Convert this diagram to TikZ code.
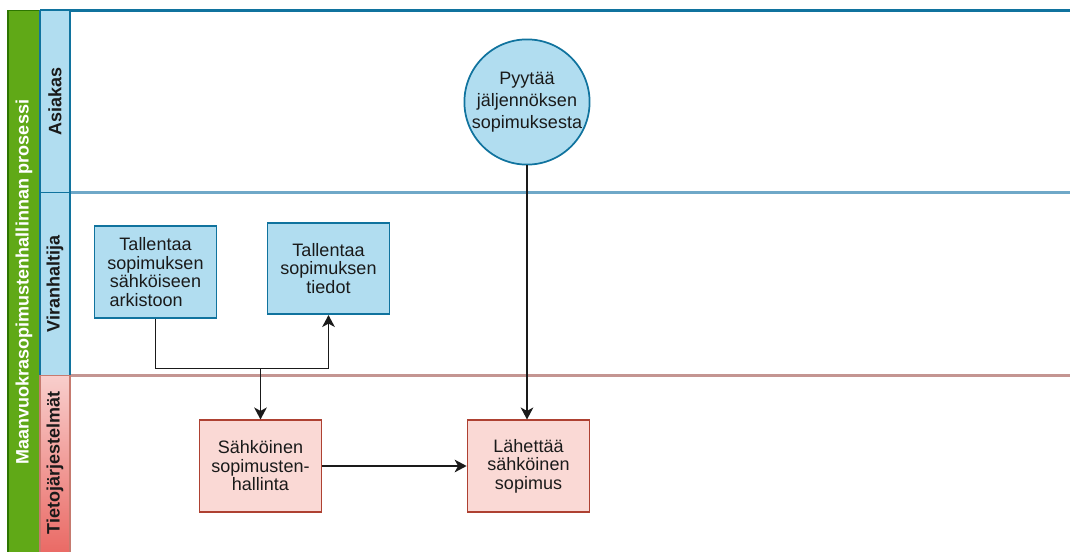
\documentclass[tikz,border=0pt]{standalone}
\usepackage{fontspec}
\setmainfont{Liberation Sans}
\usetikzlibrary{arrows.meta}
\definecolor{poolfill}{HTML}{60A917}
\definecolor{poolline}{HTML}{2D7600}
\definecolor{bluefill}{HTML}{B1DDF0}
\definecolor{blueline}{HTML}{10739E}
\definecolor{bluelane}{HTML}{6FA8C8}
\definecolor{redfill}{HTML}{FAD9D5}
\definecolor{redline}{HTML}{AE4132}
\definecolor{redlane}{HTML}{C49592}
\definecolor{redtop}{HTML}{F8CECC}
\definecolor{redbot}{HTML}{EA6B66}
\definecolor{ink}{HTML}{1A1A1A}
\begin{document}
\begin{tikzpicture}[x=0.75pt,y=-0.75pt,
  font=\fontsize{13.5}{13.9}\selectfont,
  bluebox/.style={draw=blueline,fill=bluefill,line width=1.3pt,
    minimum width=91.5pt,minimum height=68.5pt,align=center,text=ink,inner sep=1pt},
  redbox/.style={draw=redline,fill=redfill,line width=1.3pt,
    minimum width=91.5pt,minimum height=68.5pt,align=center,text=ink,inner sep=1pt},
  event/.style={circle,draw=blueline,fill=bluefill,line width=1.3pt,
    minimum size=88.5pt,align=center,text=ink,inner sep=0pt,
    font=\fontsize{13.5}{16.4}\selectfont},
  lanelabel/.style={rotate=90,font=\fontsize{13.5}{14}\selectfont\bfseries,text=ink},
  flow/.style={draw=ink,line width=1.2pt,-{Stealth[length=9pt,width=9.5pt,inset=2.6pt]}},
  link/.style={draw=ink,line width=1.2pt}]
\useasboundingbox (0,0) rectangle (1070,551);
\clip (0,0) rectangle (1070,551);
\fill[white] (0,0) rectangle (1070,551);

% lane separators
\draw[blueline,line width=1.6pt] (40,10.5) -- (1075,10.5);
\draw[bluelane,line width=1.6pt] (40,192.5) -- (1075,192.5);
\draw[redlane,line width=1.6pt] (40,375.5) -- (1075,375.5);

% pool bar
\filldraw[fill=poolfill,draw=poolline,line width=1.2pt] (8,10.5) rectangle (40,560);
\node[rotate=90,text=white,font=\fontsize{13.5}{14}\selectfont\bfseries] (pool) at (24,282) {Maanvuokrasopimustenhallinnan prosessi};

% lane headers
\filldraw[fill=bluefill,draw=blueline,line width=1.2pt] (40,10.5) rectangle (70,192.5);
\filldraw[fill=bluefill,draw=blueline,line width=1.2pt] (40,192.5) rectangle (70,375.5);
\shade[top color=redtop,bottom color=redbot] (40,375.5) rectangle (70,551);
\draw[redline!70,line width=1.2pt] (40,560) -- (40,375.5) -- (70,375.5) -- (70,560);
\node[lanelabel] (asiakas) at (55,101) {Asiakas};
\node[lanelabel] (viran) at (55,284) {Viranhaltija};
\node[lanelabel] (tieto) at (55,463) {Tietojärjestelmät};

% activities
\node[bluebox] (ark) at (155.5,272) {Tallentaa\\sopimuksen\\sähköiseen\\arkistoon\hspace*{14pt}};
\node[bluebox] (tied) at (328.5,268.5) {Tallentaa\\sopimuksen\\tiedot};
\node[redbox] (sah) at (260.5,466) {Sähköinen\\sopimusten-\\hallinta};
\node[redbox] (lah) at (528.5,466) {Lähettää\\sähköinen\\sopimus};
\node[event] (req) at (527,102) {Pyytää\\jäljennöksen\\sopimuksesta};

% connectors
\coordinate (split) at (260.5,368.5);
\draw[link] (ark.south) |- (split);
\draw[flow] (split) -- (sah.north);
\draw[flow] (split) -| (tied.south);
\draw[flow] (req.south) -- (req.south |- lah.north);
\draw[flow] (sah.east) -- (lah.west);
\end{tikzpicture}
\end{document}
